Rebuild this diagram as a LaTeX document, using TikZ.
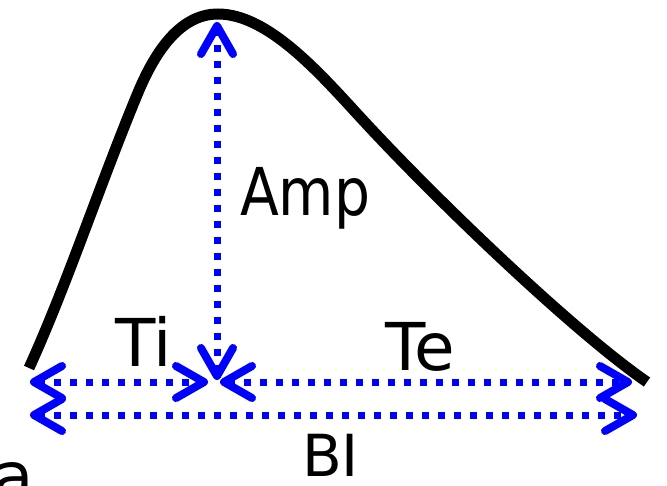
\documentclass[tikz,border=0pt]{standalone}
\usepackage{fontspec}
\setmainfont{DejaVu Sans}
\usetikzlibrary{arrows.meta}
\definecolor{arrblue}{RGB}{0,0,255}
\tikzset{
  meas/.style={draw=arrblue, line width=7pt, dash pattern=on 7pt off 9pt,
    {Straight Barb[length=28pt,width=32pt,line width=8pt,round]}-{Straight Barb[length=28pt,width=32pt,line width=8pt,round]}},
  lbl/.style={font=\fontsize{66}{70}\selectfont, inner sep=0pt, anchor=base west},
  wave/.style={draw=black, line width=11pt}
}
\begin{document}
\begin{tikzpicture}[x=1pt,y=-1pt]
\useasboundingbox (0,0) rectangle (667,485);
\draw[wave] (29,368) .. controls (66,287) and (99,187) .. (137,95)
  .. controls (153,56) and (178,14) .. (218,14)
  .. controls (268,14) and (320,73.5) .. (360,117)
  .. controls (440,204) and (577,334) .. (647,382);
\coordinate (L1) at (30,382);
\coordinate (TiR) at (208,382);
\coordinate (TeL) at (220,382);
\coordinate (R1) at (632,382);
\coordinate (M) at (217,380);
\coordinate (T) at (217,22);
\coordinate (L2) at (30,415);
\coordinate (R2) at (637,415);
\draw[meas] (L1) -- (TiR);
\draw[meas] (TeL) -- (R1);
\draw[meas] (M) -- (T);
\draw[meas] (L2) -- (R2);
\node[lbl, xscale=0.86, transform shape] (amp) at (240,215) {Amp};
\node[lbl] (ti) at (115,366) {Ti};
\node[lbl] (te) at (385,370) {Te};
\node[lbl, font=\fontsize{58}{62}\selectfont] (bi) at (302,476) {BI};
\node[lbl, anchor=base east] (ra) at (34,499) {ra};
\end{tikzpicture}
\end{document}
